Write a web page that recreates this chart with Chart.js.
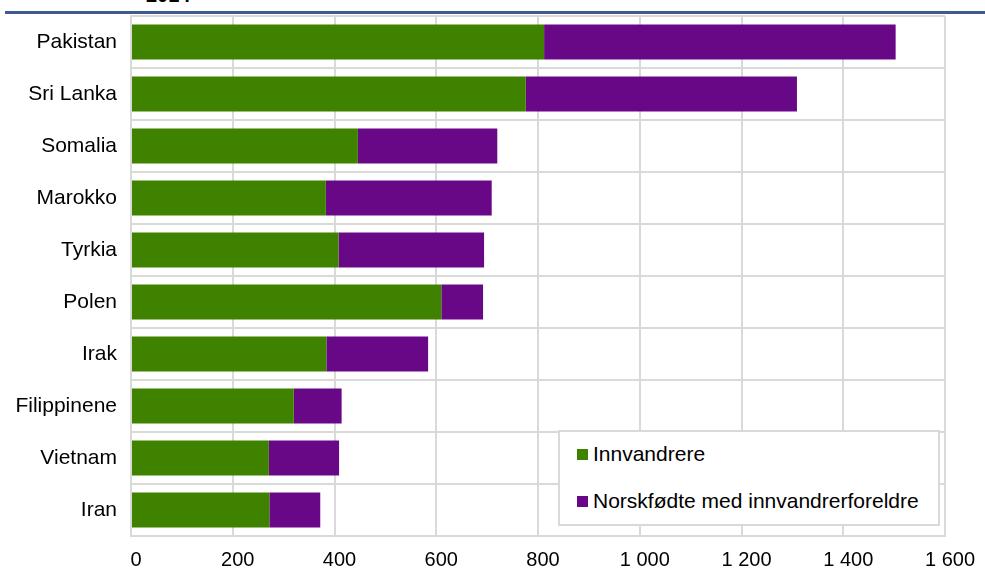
<!DOCTYPE html>
<html>
<head>
<meta charset="utf-8">
<script src="https://cdn.jsdelivr.net/npm/chart.js@4/dist/chart.umd.min.js"></script>
<style>
    html, body { margin: 0; padding: 0; background: #fff; overflow: hidden; }
    body { width: 985px; height: 574px; position: relative; font-family: "Liberation Sans", Arial, sans-serif; }
    #year { position: absolute; left: 146px; top: -15px; font-size: 20px; line-height: 20px; font-weight: bold; color: #000; }
    #topline { position: absolute; left: 5px; right: 0; top: 11px; height: 3px; background: #3e5a8e; }
    #wrap { position: absolute; left: 0; top: 0; width: 985px; height: 574px; }
    #legend { position: absolute; left: 558px; top: 430px; width: 378px; height: 92px; background: #fff; border: 2px solid #d9d9d9; }
    .item { position: absolute; left: 17px; font-size: 21px; line-height: 24px; color: #000; white-space: nowrap; }
    .item span { display: inline-block; width: 11px; height: 11px; margin-right: 5px; vertical-align: 1px; }
</style>
</head>
<body>
<div id="year">2014</div>
<div id="topline"></div>
<div id="wrap"><canvas id="chart" width="985" height="574"></canvas></div>
<div id="legend"></div>
<script>
// Countries, top to bottom
const countries = ["Pakistan", "Sri Lanka", "Somalia", "Marokko", "Tyrkia", "Polen", "Irak", "Filippinene", "Vietnam", "Iran"];
// Innvandrere
const immigrants = [812, 776, 446, 383, 408, 610, 384, 320, 271, 272];
// Norskfødte med innvandrerforeldre
const norwegianBorn = [691, 533, 274, 326, 286, 82, 200, 94, 138, 100];
const xTicks = [0, 200, 400, 600, 800, 1000, 1200, 1400, 1600];

const greenColor = "#3e8200";
const purpleColor = "#690887";
const gridColor = "#d9d9d9";

const datasets = [
    { label: "Innvandrere", data: immigrants, backgroundColor: greenColor },
    { label: "Norskfødte med innvandrerforeldre", data: norwegianBorn, backgroundColor: purpleColor },
];

// Thousands separator as a space, like "1 600"
function formatNumber(v) {
    return String(v).replace(/\B(?=(\d{3})+(?!\d))/g, " ");
}

const ctx = document.getElementById("chart").getContext("2d");
const chart = new Chart(ctx, {
    type: "bar",
    data: {
        labels: countries,
        datasets: datasets.map((d) => ({
            ...d,
            borderWidth: 0,
            categoryPercentage: 1,
            barPercentage: 0.675,
        })),
    },
    options: {
        indexAxis: "y",
        responsive: false,
        animation: false,
        layout: { padding: { top: 16, right: 40, left: 0, bottom: 0 } },
        plugins: { legend: { display: false }, tooltip: { enabled: false } },
        scales: {
            x: {
                stacked: true,
                min: 0,
                max: 1600,
                afterBuildTicks: (scale) => {
                    scale.ticks = xTicks.map((v) => ({ value: v }));
                },
                afterFit: (scale) => {
                    scale.height = 38;
                    scale.paddingLeft = 0;
                    scale.paddingRight = 0;
                },
                grid: { color: gridColor, lineWidth: 2, drawTicks: false },
                border: { display: true, color: gridColor, width: 2 },
                ticks: {
                    color: "#000",
                    font: { family: "Liberation Sans", size: 20 },
                    padding: 12,
                    labelOffset: 5,
                    maxRotation: 0,
                    callback: (value) => formatNumber(value),
                },
            },
            y: {
                stacked: true,
                afterFit: (scale) => {
                    scale.width = 131;
                    scale.paddingTop = 0;
                    scale.paddingBottom = 0;
                },
                grid: { color: gridColor, lineWidth: 2, drawTicks: false, offset: true },
                border: { display: true, color: gridColor, width: 2 },
                ticks: {
                    color: "#000",
                    font: { family: "Liberation Sans", size: 21 },
                    padding: 14,
                },
            },
        },
    },
});

// Legend built from the datasets
const legend = document.getElementById("legend");
datasets.forEach((d, i) => {
    const item = document.createElement("div");
    item.className = "item";
    item.style.top = (i === 0 ? 10 : 57) + "px";
    const box = document.createElement("span");
    box.style.background = d.backgroundColor;
    item.appendChild(box);
    item.appendChild(document.createTextNode(d.label));
    legend.appendChild(item);
});
</script>
</body>
</html>
